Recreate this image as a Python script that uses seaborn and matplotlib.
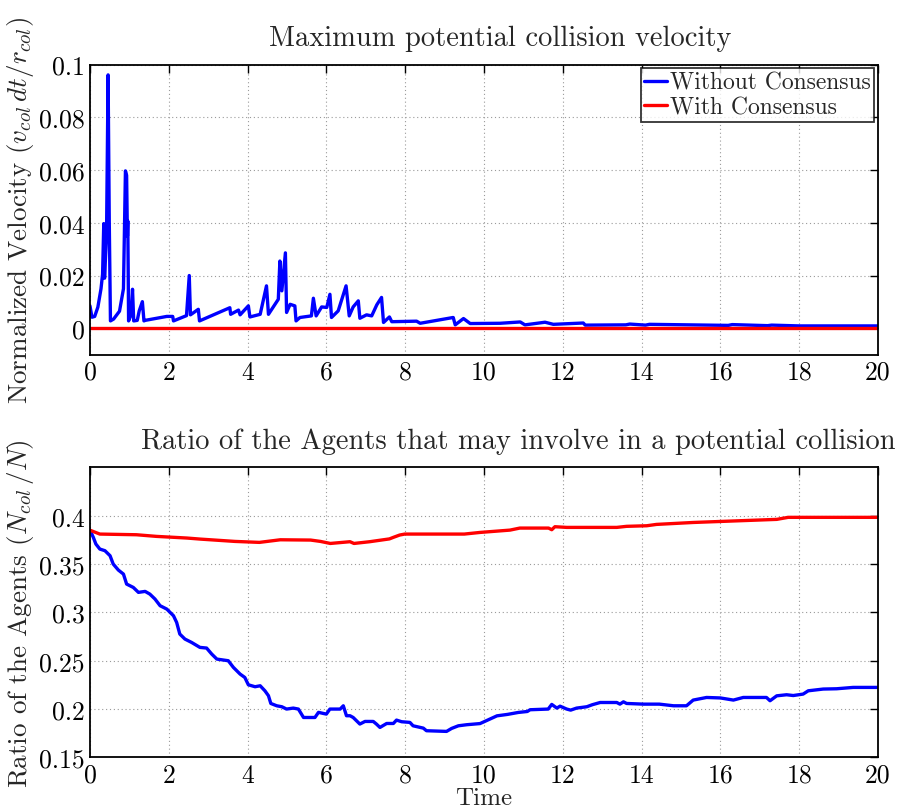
import numpy as np
import pandas as pd
import matplotlib
matplotlib.use("Agg")
import matplotlib.pyplot as plt
import seaborn as sns

# ---------------- data ----------------
# Top panel: maximum potential collision velocity (normalized)
top_t_without = [0.0, 0.05, 0.12, 0.2, 0.28, 0.32, 0.35, 0.37, 0.42, 0.46, 0.49, 0.52,
                 0.6, 0.75, 0.85, 0.9, 0.93, 0.95, 0.96, 0.98, 1.04, 1.08, 1.11, 1.2,
                 1.25, 1.33, 1.37, 1.4, 1.95, 2.1, 2.12, 2.45, 2.52, 2.55, 2.75, 2.78,
                 3.55, 3.57, 3.77, 3.81, 4.02, 4.06, 4.32, 4.48, 4.53, 4.78, 4.82, 4.87,
                 4.96, 4.99, 5.08, 5.2, 5.23, 5.33, 5.62, 5.67, 5.74, 5.88, 6.01, 6.09,
                 6.13, 6.3, 6.5, 6.58, 6.68, 6.81, 6.85, 7.02, 7.15, 7.28, 7.4, 7.45,
                 7.6, 7.66, 8.29, 8.38, 9.22, 9.27, 9.48, 9.65, 10.41, 10.92, 11.04,
                 11.55, 11.76, 12.52, 12.57, 13.6, 13.7, 14.1, 14.2, 16.2, 16.3, 17.2,
                 17.3, 18.0, 20.0]
top_v_without = [0.0085, 0.0042, 0.0045, 0.008, 0.015, 0.0205, 0.0397, 0.019, 0.035, 0.0961, 0.040, 0.0028,
                 0.0035, 0.0065, 0.015, 0.0597, 0.058, 0.035, 0.0407, 0.0028, 0.005, 0.0148, 0.0028, 0.003,
                 0.0066, 0.0101, 0.0028, 0.003, 0.0045, 0.0045, 0.0028, 0.0048, 0.020, 0.0051, 0.0072, 0.0028,
                 0.0078, 0.0053, 0.0069, 0.0051, 0.0085, 0.0043, 0.0053, 0.0161, 0.0053, 0.0110, 0.0255, 0.0142,
                 0.0286, 0.0060, 0.0091, 0.0085, 0.0028, 0.0041, 0.0047, 0.0114, 0.0047, 0.0081, 0.0079, 0.0129,
                 0.0041, 0.0066, 0.0161, 0.0047, 0.0081, 0.0104, 0.0038, 0.0051, 0.0047, 0.0089, 0.0117, 0.0022,
                 0.0043, 0.0025, 0.0027, 0.0019, 0.0041, 0.0013, 0.0037, 0.0018, 0.0019, 0.0024, 0.0013,
                 0.0023, 0.0015, 0.0020, 0.0012, 0.0013, 0.0016, 0.0012, 0.0015, 0.0011, 0.0014, 0.0010,
                 0.0012, 0.0009, 0.0009]
top_t_with = [0.0, 20.0]
top_v_with = [0.0, 0.0]

# Bottom panel: ratio of agents that may be involved in a collision
bot_t_without = [0.0, 0.085, 0.15, 0.25, 0.38, 0.51, 0.59, 0.72, 0.85, 0.93, 1.1, 1.23, 1.4,
                 1.52, 1.65, 1.78, 1.95, 2.12, 2.2, 2.28, 2.41, 2.58, 2.79, 2.96, 3.09,
                 3.22, 3.51, 3.64, 3.81, 3.93, 4.02, 4.19, 4.32, 4.44, 4.53, 4.59, 4.74,
                 4.87, 4.99, 5.16, 5.29, 5.42, 5.71, 5.8, 5.92, 6.0, 6.09, 6.35, 6.43,
                 6.51, 6.6, 6.68, 6.85, 6.98, 7.19, 7.27, 7.36, 7.53, 7.7, 7.78, 7.91,
                 8.12, 8.2, 8.46, 8.54, 9.05, 9.18, 9.35, 9.56, 9.9, 10.33, 10.6, 10.87,
                 11.1, 11.17, 11.63, 11.72, 11.85, 11.93, 12.1, 12.2, 12.35, 12.61, 12.75,
                 12.95, 13.37, 13.45, 13.54, 13.62, 14.05, 14.45, 14.81, 15.14, 15.31,
                 15.65, 16.0, 16.33, 16.58, 17.17, 17.26, 17.43, 17.68, 17.85, 18.1,
                 18.23, 18.61, 18.95, 19.37, 20.0]
bot_v_without = [0.385, 0.3776, 0.3707, 0.3655, 0.3638, 0.3586, 0.350, 0.3438, 0.3396, 0.3293, 0.3258, 0.3207, 0.3217,
                 0.3189, 0.3138, 0.3069, 0.3034, 0.2965, 0.2896, 0.2776, 0.2724, 0.2689, 0.2638, 0.2631, 0.2569,
                 0.2517, 0.250, 0.2431, 0.2362, 0.2327, 0.2251, 0.2231, 0.2241, 0.2189, 0.2138, 0.2058, 0.2034,
                 0.2024, 0.200, 0.201, 0.200, 0.1913, 0.1913, 0.1966, 0.1955, 0.1948, 0.2000, 0.2000, 0.2034,
                 0.1931, 0.1931, 0.1913, 0.1845, 0.1872, 0.1872, 0.1845, 0.1810, 0.1851, 0.1851, 0.1886, 0.1869,
                 0.1862, 0.1827, 0.1803, 0.1776, 0.1769, 0.1800, 0.1827, 0.1838, 0.1850, 0.1930, 0.1945, 0.1965,
                 0.1975, 0.1993, 0.2000, 0.2048, 0.2010, 0.2030, 0.2000, 0.1989, 0.2010, 0.2024, 0.2045,
                 0.2068, 0.2068, 0.2051, 0.2075, 0.2058, 0.2051, 0.2051, 0.2034, 0.2034, 0.2093,
                 0.2120, 0.2115, 0.2093, 0.2120, 0.2120, 0.2086, 0.2137, 0.2148, 0.2140, 0.2155,
                 0.2189, 0.2207, 0.2210, 0.2224, 0.2224]
bot_t_with = [0.0, 0.25, 1.18, 1.69, 2.46, 2.8, 3.68, 4.3, 4.83, 5.6, 5.85, 6.1, 6.6, 6.7,
              7.1, 7.6, 7.7, 7.86, 7.99, 9.5, 9.9, 10.66, 10.91, 11.64, 11.72, 11.8, 12.1,
              13.37, 13.62, 14.13, 14.38, 15.31, 16.5, 17.43, 17.72, 20.0]
bot_v_with = [0.385, 0.381, 0.3803, 0.3786, 0.3769, 0.3758, 0.3734, 0.3724, 0.3751, 0.3748, 0.3734, 0.3713, 0.3731, 0.3713,
              0.3731, 0.3760, 0.3776, 0.3800, 0.3810, 0.3810, 0.3827, 0.3851, 0.3872, 0.3872, 0.3855, 0.3886, 0.3879,
              0.3879, 0.3890, 0.3896, 0.3910, 0.3930, 0.3948, 0.3962, 0.3983, 0.3983]

labels = ["Without Consensus", "With Consensus"]
palette = {"Without Consensus": "#0000ff", "With Consensus": "#ff0000"}

top_df = pd.concat([
    pd.DataFrame({"Time": top_t_without, "Value": top_v_without, "Series": labels[0]}),
    pd.DataFrame({"Time": top_t_with, "Value": top_v_with, "Series": labels[1]}),
], ignore_index=True)
bot_df = pd.concat([
    pd.DataFrame({"Time": bot_t_without, "Value": bot_v_without, "Series": labels[0]}),
    pd.DataFrame({"Time": bot_t_with, "Value": bot_v_with, "Series": labels[1]}),
], ignore_index=True)

# ---------------- style ----------------
sns.set_theme(style="white")
plt.rcParams["font.family"] = ["cmr10", "DejaVu Serif"]
plt.rcParams["mathtext.fontset"] = "cm"
plt.rcParams["axes.formatter.use_mathtext"] = True
plt.rcParams["axes.unicode_minus"] = False

FS = 18.5
FS_T = 20.5
FS_L = 19.5
fig = plt.figure(figsize=(8.97, 8.12), dpi=100)
ax1 = fig.add_axes([0.1003, 0.5620, 0.8785, 0.3572])
ax2 = fig.add_axes([0.1003, 0.0660, 0.8785, 0.3572])

for ax, df in [(ax1, top_df), (ax2, bot_df)]:
    sns.lineplot(data=df, x="Time", y="Value", hue="Series", hue_order=labels,
                 palette=palette, linewidth=2.4, ax=ax, estimator=None, sort=False,
                 legend=(ax is ax1))
    ax.set_xlim(0, 20)
    ax.set_xticks(np.arange(0, 21, 2))
    ax.grid(True, linestyle=(0, (1, 2.5)), color="#9a9a9a", linewidth=0.8)
    ax.tick_params(direction="in", length=6, width=1, top=True, right=True,
                   labelsize=FS, colors="black", pad=4)
    for s in ax.spines.values():
        s.set_color("black")
        s.set_linewidth(1.3)
    ax.set_axisbelow(True)

ax1.set_ylim(-0.01, 0.1)
ax1.set_yticks([0, 0.02, 0.04, 0.06, 0.08, 0.1])
ax1.set_yticklabels(["0", "0.02", "0.04", "0.06", "0.08", "0.1"])
ax1.set_xticklabels([str(v) for v in range(0, 21, 2)])
ax1.set_xlabel("")
ax1.set_ylabel(r"Normalized Velocity ($v_{col}\,dt/r_{col}$)", fontsize=FS_L, labelpad=2)
ax1.set_title("Maximum potential collision velocity", fontsize=FS_T, x=0.52, pad=14)

ax2.set_ylim(0.15, 0.45)
ax2.set_yticks([0.15, 0.2, 0.25, 0.3, 0.35, 0.4])
ax2.set_yticklabels(["0.15", "0.2", "0.25", "0.3", "0.35", "0.4"])
ax2.set_xticklabels([str(v) for v in range(0, 21, 2)])
ax2.set_xlabel("Time", fontsize=18, labelpad=0)
ax2.set_ylabel(r"Ratio of the Agents ($N_{col}\,/N$)", fontsize=FS_L, labelpad=2)
ax2.set_title("Ratio of the Agents that may involve in a potential collision",
              fontsize=FS_T, x=0.544, pad=14)

leg = ax1.legend(loc="upper right", fontsize=17, frameon=True, fancybox=False,
                 edgecolor="black", handlelength=0.95, handletextpad=0.15,
                 borderpad=0.15, labelspacing=0.1, borderaxespad=0.15)
leg.get_frame().set_linewidth(1.3)
leg.set_title(None)

fig.savefig("out.png", dpi=100)
